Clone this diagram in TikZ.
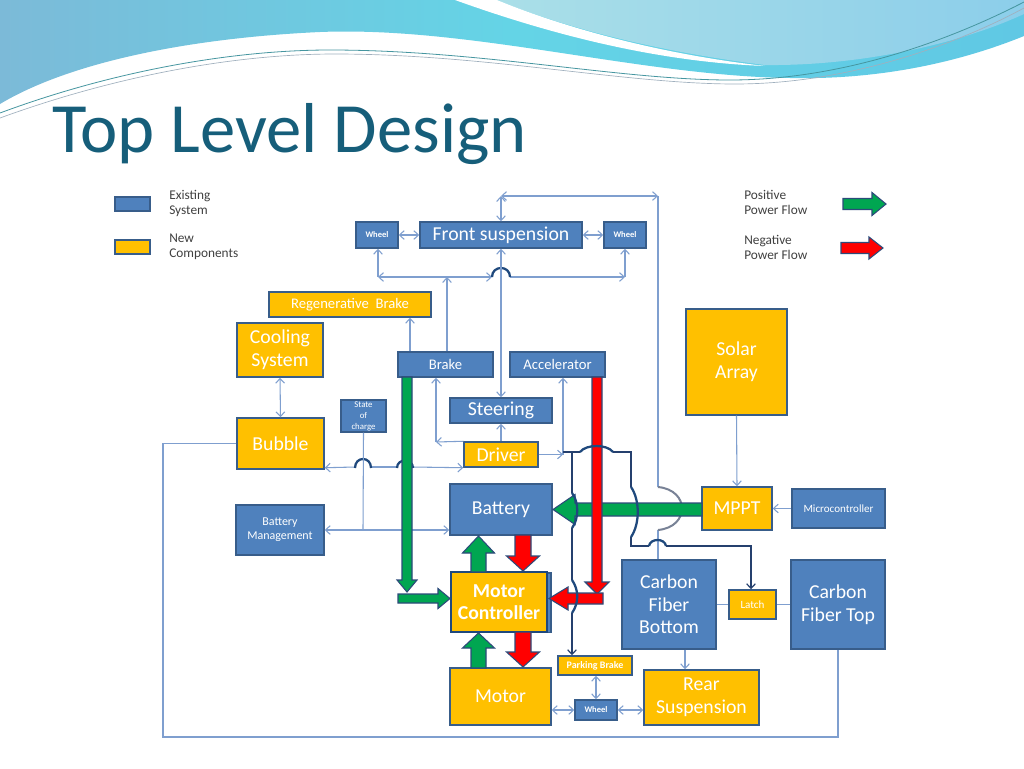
\documentclass[tikz,border=0pt]{standalone}
\usepackage{fontspec}
\setmainfont{Carlito}
\usetikzlibrary{arrows.meta}
\definecolor{boxblue}{RGB}{79,129,189}
\definecolor{boxyellow}{RGB}{255,192,0}
\definecolor{boxedge}{RGB}{56,93,138}
\definecolor{hopnavy}{RGB}{31,73,125}
\definecolor{lineblue}{RGB}{127,159,207}
\definecolor{darkline}{RGB}{37,64,110}
\definecolor{pgreen}{RGB}{0,166,81}
\definecolor{pred}{RGB}{255,0,0}
\definecolor{arredge}{RGB}{44,74,122}
\definecolor{titlecol}{RGB}{22,94,122}
\definecolor{legtext}{RGB}{64,64,64}
\definecolor{bandA}{RGB}{124,186,216}
\definecolor{bandB}{RGB}{100,212,230}
\definecolor{bandC}{RGB}{96,200,228}
\definecolor{bandD}{RGB}{170,223,232}
\definecolor{bandE}{RGB}{140,206,234}
\definecolor{thinA}{RGB}{70,150,160}
\definecolor{thinB}{RGB}{160,176,190}
\definecolor{arcgray}{RGB}{120,130,150}
\newcommand{\bx}[7]{\node[#1, minimum width={0.75pt*(#5-#3)}, minimum height={0.75pt*(#6-#4)}] (#2) at ({(#3+#5)/2},{(#4+#6)/2}) {#7};}
% horizontal block arrow: colour, x tail, x head base, x tip, y centre, half body, half head
\newcommand{\pharrow}[7]{\filldraw[fill=#1, draw=arredge, line width=0.8pt, line join=miter]
  ({#2},{#5-#6}) -- ({#3},{#5-#6}) -- ({#3},{#5-#7}) -- ({#4},{#5}) -- ({#3},{#5+#7}) -- ({#3},{#5+#6}) -- ({#2},{#5+#6}) -- cycle;}
% vertical block arrow: colour, y tail, y head base, y tip, x centre, half body, half head
\newcommand{\pvarrow}[7]{\filldraw[fill=#1, draw=arredge, line width=0.8pt, line join=miter]
  ({#5-#6},{#2}) -- ({#5-#6},{#3}) -- ({#5-#7},{#3}) -- ({#5},{#4}) -- ({#5+#7},{#3}) -- ({#5+#6},{#3}) -- ({#5+#6},{#2}) -- cycle;}
\tikzset{
  base/.style={draw=boxedge, line width=1.1pt, inner sep=1pt, text=white, align=center},
  bluebox/.style={base, fill=boxblue},
  yelbox/.style={base, fill=boxyellow},
  big/.style={font=\fontsize{14.8}{17}\selectfont},
  med/.style={font=\fontsize{11}{13}\selectfont},
  sml/.style={font=\fontsize{9}{10.5}\selectfont},
  tiny/.style={font=\bfseries\fontsize{6.4}{7.5}\selectfont},
  legend/.style={anchor=west, inner sep=0pt, align=left, text=legtext, font=\fontsize{10}{11.3}\selectfont},
  lline/.style={draw=lineblue, line width=0.8pt},
  dline/.style={draw=darkline, line width=0.9pt},
  hop/.style={draw=hopnavy, line width=1.7pt},
  grayhop/.style={draw=arcgray, line width=1.5pt}
}
\begin{document}
\begin{tikzpicture}[x=0.75pt,y=-0.75pt,>={Straight Barb[length=3.5pt,width=6.5pt]}]
\useasboundingbox (0,0) rectangle (1024,768);
\fill[white] (0,0) rectangle (1024,768);
% ---- top decoration
\shade[left color=bandA, right color=bandC, middle color=bandB]
  (0,0) -- (1024,0) -- (1024,36) .. controls (960,62) and (880,80) .. (790,78)
  .. controls (640,76) and (470,26) .. (320,32) .. controls (190,38) and (70,62) .. (0,104) -- cycle;
\shade[left color=bandD, right color=bandE]
  (497,0) -- (1024,0) -- (1024,14) .. controls (950,48) and (850,66) .. (765,65)
  .. controls (660,52) and (565,28) .. (497,0) -- cycle;
\fill[white] (455,0) .. controls (555,36) and (660,62) .. (765,66)
  .. controls (660,54) and (565,28) .. (497,0) -- cycle;
\draw[line width=0.6pt, thinA] (0,113) .. controls (110,72) and (230,50) .. (330,50)
  .. controls (480,50) and (620,80) .. (730,80) .. controls (850,80) and (960,35) .. (1024,2);
\draw[line width=0.5pt, thinB] (0,118) .. controls (115,76) and (235,54) .. (335,54)
  .. controls (485,54) and (625,84) .. (735,84) .. controls (855,84) and (965,40) .. (1024,8);
% ---- title
\node[anchor=base west, inner sep=0pt, text=titlecol, font=\fontsize{53}{60}\selectfont] (title) at (52,152) {Top Level Design};
% ---- legend
\bx{bluebox}{legB}{115}{197}{150}{211}{}
\bx{yelbox}{legY}{115}{240}{150}{254}{}
\node[legend] (legBt) at (169,203.5) {Existing\\System};
\node[legend] (legYt) at (169,247) {New\\Components};
\node[legend] (legGt) at (744,202.5) {Positive\\Power Flow};
\node[legend] (legRt) at (744,247) {Negative\\Power Flow};
\pharrow{pgreen}{843}{872}{886}{204}{5.5}{11.5}
\pharrow{pred}{841}{869}{883}{248}{5.5}{11}
% ---- boxes
\bx{bluebox,tiny}{WL}{356}{222}{398}{248}{Wheel}
\bx{bluebox,big}{FS}{420}{222}{582}{248}{Front suspension}
\bx{bluebox,tiny}{WR}{604}{222}{646}{248}{Wheel}
\bx{yelbox,med}{RB}{269}{292}{431}{317}{Regenerative\ \ Brake}
\bx{yelbox,big}{CS}{237}{323}{323}{377}{Cooling\\System}
\bx{bluebox,med}{BR}{398}{352}{493}{377}{Brake}
\bx{bluebox,med}{AC}{510}{352}{605}{377}{Accelerator}
\bx{bluebox,big}{ST}{450}{398}{552}{423}{Steering}
\bx{yelbox,big}{DR}{464}{442}{538}{467}{Driver}
\bx{bluebox,big}{BA}{450}{484}{552}{535}{Battery}
\bx{yelbox,big}{SA}{686}{309}{787}{415}{Solar\\Array}
\bx{yelbox,big}{MP}{702}{487}{772}{530}{MPPT}
\bx{bluebox,font=\fontsize{8.3}{10}\selectfont}{MI}{792}{489}{885}{528}{Microcontroller}
\bx{yelbox,big}{BU}{237}{418}{324}{469}{Bubble}
\bx{bluebox,font=\fontsize{6.6}{8.2}\selectfont}{SOC}{341}{401}{386}{431}{State\\of\\charge}
\bx{bluebox,sml}{BM}{236}{505}{324}{555}{Battery\\Management}
\filldraw[fill=boxblue, draw=boxedge, line width=0.8pt] (455,573) rectangle (551,632.5);
\bx{yelbox,big,font=\bfseries\fontsize{14.8}{17}\selectfont,draw=hopnavy,line width=2pt}{MCT}{451}{572}{547}{632}{Motor\\Controller}
\bx{yelbox,big}{MO}{450}{668}{551}{725}{Motor}
\bx{yelbox,font=\bfseries\fontsize{7.5}{9}\selectfont}{PB}{558}{656}{632}{675}{Parking Brake}
\bx{bluebox,tiny}{WB}{575}{700}{617}{720}{Wheel}
\bx{yelbox,big}{RS}{644}{670}{759}{725}{Rear\\Suspension}
\bx{bluebox,big}{CFB}{622}{560}{716}{649}{Carbon\\Fiber\\Bottom}
\bx{yelbox,font=\fontsize{8.3}{10}\selectfont}{LA}{729}{590}{776}{619}{Latch}
\bx{bluebox,big}{CFT}{791}{560}{885}{649}{Carbon\\Fiber Top}
% ---- light connectors
\draw[lline,<->] (WL.east) -- (FS.west);
\draw[lline,<->] (FS.east) -- (WR.west);
\draw[lline] (CFB.north -| 658,0) -- (658,530);
\draw[lline] (658,487) -- (658,196);
\draw[lline,<->] (658,196) -- (501,196);
\draw[lline,<->] (501,196) -- (FS.north -| 501,0);
\draw[grayhop] (658,487) .. controls (690,490) and (690,527) .. (658,530);
\draw[lline,->] (BR.north -| 447,0) -- (447,277);
\draw[lline,->] (447,277) -- (378,277);
\draw[lline,->] (378,277) -- (WL.south -| 378,0);
\draw[lline,->] (447,277) -- (492,277);
\draw[lline,->] (510,277) -- (625,277);
\draw[lline,->] (625,277) -- (WR.south -| 625,0);
\draw[hop] (492,277) .. controls (492,265) and (510,265) .. (510,277);
\draw[lline,<->] (FS.south -| 501,0) -- (ST.north -| 501,0);
\draw[lline,->] (BR.north -| 410,0) -- (RB.south -| 410,0);
\draw[lline,->] (DR.north) -- (ST.south);
\draw[lline,->] (DR.north west) -- (436,442);
\draw[lline,->] (436,442) -- (BR.south -| 436,0);
\coordinate (jA) at (563,454.5);
\draw[lline,->] (DR.east) -- (jA);
\draw[lline,->] (jA) -- (AC.south -| jA);
\draw[lline,->] (355,467) -- (BU.east |- DR.south west);
\draw[lline] (371,467) -- (397,467);
\draw[lline,->] (413,467) -- (DR.south west);
\draw[hop] (355,468) .. controls (355,456) and (371,456) .. (371,468);
\draw[hop] (397,468) .. controls (397,458) and (413,458) .. (413,468);
\coordinate (jS) at (363,530);
\draw[lline] (SOC.south) -- (jS);
\draw[lline,->] (jS) -- (BM.east);
\draw[lline,->] (jS) -- (BA.west |- jS);
\draw[lline,<->] (CS.south) -- (BU.north);
\draw[lline] (BU.west) -- (163,443.5) -- (163,737) -- (838,737) -- (CFT.south);
\draw[lline,->] (SA.south) -- (MP.north);
\draw[lline,->] (MI.west) -- (MP.east);
\draw[lline] (CFB.east |- LA.west) -- (LA.west);
\draw[lline] (LA.east) -- (CFT.west |- LA.east);
\draw[lline,->] (CFB.south -| 685,0) -- (RS.north -| 685,0);
\draw[lline,<->] (PB.south -| WB.north) -- (WB.north);
\draw[lline,<->] (MO.east |- WB.west) -- (WB.west);
\draw[lline,<->] (WB.east) -- (RS.west |- WB.east);
% ---- power flow arrows
\pvarrow{pgreen}{377}{580}{592}{407}{5}{10}
\pharrow{pgreen}{398}{438}{450}{598.5}{4.5}{10}
\pvarrow{pgreen}{572}{553}{536}{478.5}{7.5}{16}
\pvarrow{pgreen}{668}{648}{633}{478.5}{7.5}{16}
\pvarrow{pred}{535}{556}{571}{523}{8}{16.5}
\pvarrow{pred}{632}{652}{667}{523}{8}{16.5}
\pharrow{pgreen}{702}{575}{553}{509.5}{6.5}{15}
\pvarrow{pred}{377}{582}{594}{597}{5}{12}
\pharrow{pred}{603}{568}{549}{598.5}{5.5}{11.5}
% ---- dark connectors from the driver
\coordinate (jD) at (563,452);
\draw[dline] (jD) -- (580,452);
\draw[hop] (580,452) .. controls (586,444) and (607,444) .. (613,452);
\draw[dline] (613,452) -- (631,452) -- (631,487);
\draw[hop] (631,487) .. controls (640,500) and (640,524) .. (631,537);
\draw[dline] (631,537) -- (631,546) -- (649,546);
\draw[hop] (649,546) .. controls (650,538) and (665,538) .. (666,546);
\draw[dline,->] (666,546) -- (751,546) -- (LA.north -| 751,0);
\draw[dline] (572,452) -- (572,493);
\draw[hop] (572,493) .. controls (579,502) and (579,519) .. (572,528);
\draw[dline] (572,528) -- (572,580);
\draw[hop] (572,580) .. controls (579,590) and (579,603) .. (572,613);
\draw[dline,->] (572,613) -- (PB.north -| 572,0);
\end{tikzpicture}
\end{document}
